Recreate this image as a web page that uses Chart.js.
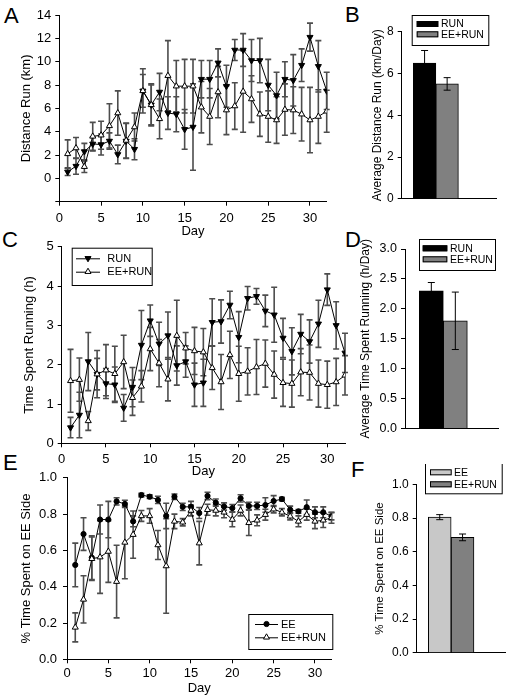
<!DOCTYPE html>
<html>
<head>
<meta charset="utf-8">
<script src="https://cdn.jsdelivr.net/npm/chart.js@4/dist/chart.umd.min.js"></script>
<style>
body { margin: 0; background: #fff; width: 509px; height: 700px; position: relative; overflow: hidden; font-family: "Liberation Sans", Arial, sans-serif; }
canvas { position: absolute; }
.panel { position: absolute; font-size: 22px; line-height: 22px; color: #000; }
</style>
</head>
<body>
<div class="panel" style="left:4px;top:5px">A</div>
<div class="panel" style="left:345px;top:4px">B</div>
<div class="panel" style="left:2px;top:229px">C</div>
<div class="panel" style="left:345px;top:229px">D</div>
<div class="panel" style="left:3px;top:452px">E</div>
<div class="panel" style="left:351px;top:459px">F</div>

<canvas id="chartA" width="340" height="240" style="left:0px;top:0px"></canvas>
<canvas id="chartB" width="139" height="200" style="left:370px;top:10px"></canvas>
<canvas id="chartC" width="355" height="245" style="left:0px;top:235px"></canvas>
<canvas id="chartD" width="153" height="204" style="left:356px;top:236px"></canvas>
<canvas id="chartE" width="345" height="236" style="left:0px;top:464px"></canvas>
<canvas id="chartF" width="139" height="200" style="left:370px;top:464px"></canvas>

<script>
'use strict'
// ---- data ----
let days = [1, 2, 3, 4, 5, 6, 7, 8, 9, 10, 11, 12, 13, 14, 15, 16, 17, 18, 19, 20, 21, 22, 23, 24, 25, 26, 27, 28, 29, 30, 31, 32];

// A: distance run (km)
let runDist = [0.55, 1.05, 2.3, 2.95, 2.9, 3.2, 2.05, 3.2, 2.5, 7.5, 6.3, 7.4, 5.6, 5.5, 4.2, 4.4, 8.5, 8.5, 9.9, 7.9, 11.0, 11.0, 10.1, 10.1, 8.0, 7.1, 8.5, 8.4, 9.7, 12.1, 9.6, 7.5];
let runDistErr = [0.3, 0.7, 0.7, 0.6, 0.9, 0.7, 0.8, 1.5, 0.9, 1.4, 1.7, 1.6, 1.4, 1.5, 1.7, 3.7, 1.6, 1.6, 1.2, 1.8, 0.9, 1.4, 1.8, 1.9, 2.2, 2.0, 1.5, 2.2, 1.4, 1.2, 2.2, 1.6];
let eeRunDist = [2.1, 2.6, 1.0, 3.6, 3.7, 4.5, 5.6, 3.25, 4.4, 7.5, 6.3, 5.1, 8.8, 7.9, 7.9, 7.9, 6.1, 5.3, 7.4, 5.85, 6.2, 7.45, 6.8, 5.5, 5.3, 5.0, 5.9, 5.85, 5.5, 5.0, 5.3, 5.75];
let eeRunDistErr = [1.2, 0.9, 0.5, 1.2, 1.2, 1.9, 1.9, 1.5, 1.2, 1.9, 1.8, 1.7, 3.0, 2.2, 2.3, 2.3, 2.2, 2.4, 2.2, 2.1, 2.0, 3.5, 2.0, 1.9, 2.2, 2.0, 2.2, 2.0, 2.3, 2.8, 2.3, 1.8];

// B: average distance (km/day)
let barGroups = ['RUN', 'EE+RUN'];
let avgDist = [6.5, 5.5];
let avgDistErr = [0.6, 0.3];

// C: time spent running (h)
let runTime = [0.4, 0.72, 2.08, 1.76, 1.52, 1.49, 0.9, 1.43, 2.5, 3.12, 2.53, 2.74, 1.98, 2.08, 1.49, 1.54, 3.08, 3.1, 3.52, 2.7, 3.69, 3.74, 3.37, 3.27, 2.68, 2.34, 2.78, 2.59, 3.04, 3.91, 3.0, 2.3];
let runTimeErr = [0.26, 0.58, 0.74, 0.6, 0.38, 0.45, 0.34, 0.5, 0.88, 0.4, 0.55, 0.6, 0.5, 0.4, 0.55, 0.6, 0.6, 0.55, 0.35, 0.65, 0.3, 0.2, 0.4, 0.7, 0.5, 0.6, 0.5, 0.55, 0.6, 0.4, 0.6, 0.5];
let eeRunTime = [1.59, 1.62, 0.57, 1.76, 1.86, 1.77, 2.07, 1.16, 1.45, 2.4, 2.04, 1.63, 2.74, 2.42, 2.35, 2.32, 1.92, 1.56, 2.25, 1.77, 1.83, 1.94, 2.03, 1.75, 1.54, 1.52, 1.81, 1.8, 1.52, 1.49, 1.56, 1.73];
let eeRunTimeErr = [0.8, 0.55, 0.24, 0.4, 0.65, 0.7, 0.68, 0.45, 0.4, 0.55, 0.6, 0.55, 0.9, 0.4, 0.6, 0.6, 0.55, 0.7, 0.6, 0.7, 0.6, 0.7, 0.6, 0.6, 0.6, 0.6, 0.6, 0.7, 0.6, 0.6, 0.6, 0.5];

// D: average time running (h/day)
let avgTime = [2.3, 1.8];
let avgTimeErr = [0.14, 0.48];

// E: fraction of time on EE side
let sideGroups = ['EE', 'EE+RUN'];
let eeSide = [0.52, 0.69, 0.56, 0.77, 0.77, 0.87, 0.856, 0.76, 0.905, 0.896, 0.878, 0.79, 0.896, 0.84, 0.84, 0.806, 0.9, 0.863, 0.842, 0.833, 0.887, 0.845, 0.845, 0.85, 0.872, 0.883, 0.824, 0.815, 0.838, 0.81, 0.81, 0.788];
let eeSideErr = [0.12, 0.09, 0.12, 0.08, 0.1, 0.02, 0.02, 0.03, 0.01, 0.01, 0.02, 0.07, 0.015, 0.02, 0.03, 0.03, 0.02, 0.02, 0.02, 0.02, 0.02, 0.02, 0.02, 0.04, 0.03, 0.01, 0.02, 0.01, 0.04, 0.03, 0.03, 0.02];
let eeRunSide = [0.176, 0.33, 0.554, 0.563, 0.594, 0.428, 0.644, 0.687, 0.79, 0.79, 0.63, 0.514, 0.76, 0.755, 0.82, 0.64, 0.824, 0.82, 0.81, 0.77, 0.82, 0.752, 0.766, 0.797, 0.827, 0.81, 0.788, 0.76, 0.797, 0.76, 0.766, 0.78];
let eeRunSideErr = [0.08, 0.13, 0.12, 0.2, 0.17, 0.2, 0.2, 0.13, 0.03, 0.04, 0.08, 0.26, 0.04, 0.02, 0.03, 0.12, 0.03, 0.03, 0.03, 0.04, 0.03, 0.07, 0.03, 0.03, 0.02, 0.02, 0.02, 0.03, 0.03, 0.04, 0.04, 0.03];

// F: average fraction on EE side
let avgSide = [0.805, 0.685];
let avgSideErr = [0.015, 0.02];

Chart.defaults.font.family = '"Liberation Sans", Arial, sans-serif';
Chart.defaults.color = '#000';

// error bars drawn through the chart's scales
function drawErrors(chart, o) {
  let ctx = chart.ctx, xs = chart.scales.x, ys = chart.scales.y;
  ctx.save();
  ctx.strokeStyle = o.color;
  ctx.lineWidth = o.width;
  chart.data.datasets.forEach(ds => {
    if (!ds.errors) return;
    ds.data.forEach((p, i) => {
      let e = ds.errors[i];
      let px = xs.getPixelForValue(p.x);
      let top = ys.getPixelForValue(p.y + e), bot = ys.getPixelForValue(p.y - e);
      ctx.beginPath();
      ctx.moveTo(px, top); ctx.lineTo(px, bot);
      ctx.moveTo(px - o.cap, top); ctx.lineTo(px + o.cap, top);
      ctx.moveTo(px - o.cap, bot); ctx.lineTo(px + o.cap, bot);
      ctx.stroke();
    });
  });
  ctx.restore();
}

let errorBars = {
  id: 'errorBars',
  beforeDatasetsDraw(chart, args, o) { if (o.layer === 'below') drawErrors(chart, o) },
  afterDatasetsDraw(chart, args, o) { if (o.layer !== 'below') drawErrors(chart, o) }
};

function drawMark(ctx, kind, x, y, r, fill) {
  ctx.beginPath();
  if (kind === 'circle') {
    ctx.arc(x, y, r, 0, Math.PI * 2);
  } else {
    let s = kind === 'down' ? -1 : 1;
    ctx.moveTo(x, y - s * r);
    ctx.lineTo(x + r * 0.866, y + s * r / 2);
    ctx.lineTo(x - r * 0.866, y + s * r / 2);
    ctx.closePath();
  }
  ctx.fillStyle = fill;
  ctx.fill();
  ctx.strokeStyle = '#000';
  ctx.lineWidth = 1;
  ctx.stroke();
}

// framed legend like the original figure
let boxLegend = {
  id: 'boxLegend',
  afterDraw(chart, args, o) {
    if (!o.items) return;
    let ctx = chart.ctx;
    ctx.save();
    ctx.translate(-o.origin[0], -o.origin[1]);
    ctx.strokeStyle = '#000';
    ctx.lineWidth = 1;
    ctx.strokeRect(o.box[0] + 0.5, o.box[1] + 0.5, o.box[2], o.box[3]);
    ctx.font = o.font;
    ctx.textBaseline = 'middle';
    o.items.forEach((it, i) => {
      let y = o.rows[i];
      if (it.kind === 'swatch') {
        ctx.fillStyle = it.fill;
        ctx.fillRect(o.sym[0], y - o.symH / 2, o.sym[1] - o.sym[0], o.symH);
        ctx.strokeStyle = '#000';
        ctx.strokeRect(o.sym[0] + 0.5, y - o.symH / 2 + 0.5, o.sym[1] - o.sym[0] - 1, o.symH - 1);
      } else {
        ctx.strokeStyle = '#000';
        ctx.beginPath();
        ctx.moveTo(o.sym[0], y + 0.5);
        ctx.lineTo(o.sym[1], y + 0.5);
        ctx.stroke();
        drawMark(ctx, it.marker, (o.sym[0] + o.sym[1]) / 2, y, it.r, it.fill);
      }
      ctx.fillStyle = '#000';
      ctx.fillText(it.text, o.textX, y + 0.5);
    });
    ctx.restore();
  }
};

Chart.register(errorBars, boxLegend);

function yAxis(o) {
  return {
    type: 'linear', position: 'left', min: o.min, max: o.max,
    afterFit: s => { s.width = o.width },
    ticks: {
      stepSize: o.step, padding: o.pad, font: { size: o.fs }, color: '#000',
      callback: v => v < 0 ? '' : (o.dec ? v.toFixed(o.dec) : String(v))
    },
    grid: { drawOnChartArea: false, tickLength: 4, color: '#000' },
    border: { color: '#000' },
    title: { display: true, text: o.title, color: '#000', font: { size: o.tfs }, padding: { top: o.tpad, bottom: 0 } }
  };
}

function dayAxis(o) {
  return {
    type: 'linear', position: 'bottom', min: 0, max: 32,
    afterFit: s => { s.height = o.height },
    ticks: { stepSize: 5, includeBounds: false, padding: o.pad, font: { size: 13 }, color: '#000', maxRotation: 0, autoSkip: false },
    grid: { drawOnChartArea: false, tickLength: 4, color: '#000' },
    border: { color: '#000' },
    title: { display: true, text: 'Day', color: '#000', font: { size: 13 }, padding: { top: 0, bottom: o.tpad } }
  };
}

function barAxis(o) {
  return {
    type: 'linear', position: 'bottom', min: o.min, max: o.max, offset: false,
    afterFit: s => { s.height = o.height },
    ticks: { display: false },
    grid: { display: false },
    border: { color: '#000' }
  };
}

function series(vals, errs, marker, fill) {
  return {
    data: days.map((d, i) => ({ x: d, y: vals[i] })),
    errors: errs,
    borderColor: '#000', borderWidth: 1, tension: 0,
    pointStyle: marker === 'circle' ? 'circle' : 'triangle',
    pointRotation: marker === 'down' ? 180 : 0,
    pointRadius: marker === 'circle' ? 2.6 : 3.5,
    pointBackgroundColor: fill, pointBorderColor: '#000', pointBorderWidth: 1
  };
}

function baseOptions(pad, scales, plugins) {
  return {
    responsive: false, animation: false, devicePixelRatio: 1,
    layout: { autoPadding: false, padding: { top: pad.top, right: pad.right, left: 0, bottom: 0 } },
    plugins: Object.assign({ legend: { display: false }, tooltip: { enabled: false } }, plugins),
    scales: scales
  };
}

// ---- A ----
new Chart(document.getElementById('chartA'), {
  type: 'line',
  data: { datasets: [series(eeRunDist, eeRunDistErr, 'up', '#fff'), series(runDist, runDistErr, 'down', '#000')] },
  options: baseOptions({ top: 15, right: 13.3 }, {
    x: dayAxis({ height: 38.3, pad: 5, tpad: 1 }),
    y: yAxis({ min: -2, max: 14, step: 2, width: 59.3, pad: 4, fs: 13, title: 'Distance Run (km)', tfs: 13, tpad: 19 })
  }, { errorBars: { color: '#4d4d4d', width: 1.6, cap: 3, layer: 'below' } })
});

// ---- B ----
new Chart(document.getElementById('chartB'), {
  type: 'bar',
  data: { datasets: [{
    data: avgDist.map((v, i) => ({ x: i, y: v })), errors: avgDistErr,
    backgroundColor: ['#000000', '#808080'], borderColor: '#000', borderWidth: 1,
    barPercentage: 1, categoryPercentage: 1
  }] },
  options: baseOptions({ top: 21.7, right: 12.3 }, {
    x: barAxis({ min: -1.016, max: 3.2, height: 7.3 }),
    y: yAxis({ min: 0, max: 8, step: 2, width: 31.7, pad: 4, fs: 12, title: 'Average Distance Run (km/Day)', tfs: 12, tpad: 0 })
  }, {
    errorBars: { color: '#000', width: 1, cap: 3.5, layer: 'above' },
    boxLegend: {
      origin: [370, 10], box: [411.7, 15, 76.6, 30], rows: [24, 34.3], sym: [416.7, 438.3], symH: 6, textX: 441,
      font: '10.5px "Liberation Sans"',
      items: [{ text: barGroups[0], kind: 'swatch', fill: '#000000' }, { text: barGroups[1], kind: 'swatch', fill: '#808080' }]
    }
  })
});

// ---- C ----
new Chart(document.getElementById('chartC'), {
  type: 'line',
  data: { datasets: [series(eeRunTime, eeRunTimeErr, 'up', '#fff'), series(runTime, runTimeErr, 'down', '#000')] },
  options: baseOptions({ top: 10.7, right: 10 }, {
    x: dayAxis({ height: 36.7, pad: 4, tpad: 0.5 }),
    y: yAxis({ min: 0, max: 5, step: 1, width: 61.7, pad: 4, fs: 13, title: 'Time Spent Running (h)', tfs: 13, tpad: 22 })
  }, {
    errorBars: { color: '#4d4d4d', width: 1.6, cap: 3, layer: 'below' },
    boxLegend: {
      origin: [0, 235], box: [71.7, 247.7, 80, 37.3], rows: [258.3, 271.7], sym: [76, 100], textX: 107.3,
      font: '11px "Liberation Sans"',
      items: [{ text: barGroups[0], kind: 'line', marker: 'down', fill: '#000', r: 3.5 }, { text: barGroups[1], kind: 'line', marker: 'up', fill: '#fff', r: 3.5 }]
    }
  })
});

// ---- D ----
new Chart(document.getElementById('chartD'), {
  type: 'bar',
  data: { datasets: [{
    data: avgTime.map((v, i) => ({ x: i, y: v })), errors: avgTimeErr,
    backgroundColor: ['#000000', '#808080'], borderColor: '#000', borderWidth: 1,
    barPercentage: 1, categoryPercentage: 1
  }] },
  options: baseOptions({ top: 13, right: 10.7 }, {
    x: barAxis({ min: -1.096, max: 2.79, height: 5.7 }),
    y: yAxis({ min: 0, max: 3, step: 0.5, dec: 1, width: 49, pad: 4, fs: 12.5, title: 'Average Time Spent Running (h/Day)', tfs: 12, tpad: 2 })
  }, {
    errorBars: { color: '#000', width: 1, cap: 3.5, layer: 'above' },
    boxLegend: {
      origin: [356, 236], box: [419, 239, 76, 31], rows: [248.3, 259.3], sym: [422.7, 447.3], symH: 6, textX: 450,
      font: '10.5px "Liberation Sans"',
      items: [{ text: barGroups[0], kind: 'swatch', fill: '#000000' }, { text: barGroups[1], kind: 'swatch', fill: '#808080' }]
    }
  })
});

// ---- E ----
new Chart(document.getElementById('chartE'), {
  type: 'line',
  data: { datasets: [series(eeRunSide, eeRunSideErr, 'up', '#fff'), series(eeSide, eeSideErr, 'circle', '#000')] },
  options: baseOptions({ top: 10, right: 13.5 }, {
    x: dayAxis({ height: 40.7, pad: 2, tpad: 4 }),
    y: yAxis({ min: 0, max: 1, step: 0.2, dec: 1, width: 67, pad: 6, fs: 13, title: '% Time Spent on EE Side', tfs: 13, tpad: 19 })
  }, {
    errorBars: { color: '#4d4d4d', width: 1.6, cap: 3, layer: 'below' },
    boxLegend: {
      origin: [0, 464], box: [248.3, 614, 84, 35], rows: [624, 637.3], sym: [255, 278], textX: 281,
      font: '11px "Liberation Sans"',
      items: [{ text: sideGroups[0], kind: 'line', marker: 'circle', fill: '#000', r: 2.6 }, { text: sideGroups[1], kind: 'line', marker: 'up', fill: '#fff', r: 3.5 }]
    }
  })
});

// ---- F ----
new Chart(document.getElementById('chartF'), {
  type: 'bar',
  data: { datasets: [{
    data: avgSide.map((v, i) => ({ x: i, y: v })), errors: avgSideErr,
    backgroundColor: ['#c8c8c8', '#808080'], borderColor: '#000', borderWidth: 1,
    barPercentage: 1, categoryPercentage: 1
  }] },
  options: baseOptions({ top: 20.3, right: 4 }, {
    x: barAxis({ min: -1.009, max: 2.86, height: 4.7 }),
    y: yAxis({ min: 0, max: 1, step: 0.2, dec: 1, width: 46.7, pad: 4, fs: 12, title: '% Time Spent on EE Side', tfs: 11.5, tpad: 3 })
  }, {
    errorBars: { color: '#000', width: 1, cap: 3.5, layer: 'above' },
    boxLegend: {
      origin: [370, 464], box: [425, 461.7, 76.7, 31.6], rows: [472.3, 484.3], sym: [430, 451.7], symH: 6, textX: 454,
      font: '10.5px "Liberation Sans"',
      items: [{ text: sideGroups[0], kind: 'swatch', fill: '#c8c8c8' }, { text: sideGroups[1], kind: 'swatch', fill: '#808080' }]
    }
  })
});
</script>
</body>
</html>
